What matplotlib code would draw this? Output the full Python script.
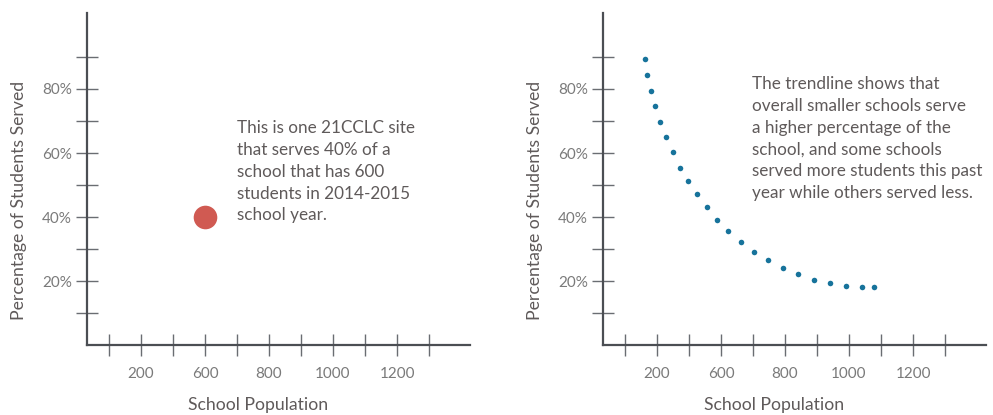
import numpy as np
import matplotlib
matplotlib.use("Agg")
import matplotlib.pyplot as plt

plt.rcParams['font.family'] = ['Lato', 'DejaVu Sans']

# x values are positions along the tick row (tick 1 .. tick 11)
tick_pos = [1, 2, 3, 4, 5, 6, 7, 8, 9, 10, 11]
xtick_labels = ['', '200', '', '600', '', '800', '', '1000', '', '1200', '']
ytick_vals = [10, 20, 30, 40, 50, 60, 70, 80, 90]
ytick_labels = ['', '20%', '', '40%', '', '60%', '', '80%', '']

# left panel: one site
site_x = [4]
site_y = [40]

# right panel: trendline dots
trend_x = [1.62, 1.69, 1.80, 1.94, 2.10, 2.28, 2.49, 2.72, 2.97, 3.25, 3.55, 3.88,
           4.23, 4.62, 5.03, 5.48, 5.94, 6.41, 6.90, 7.40, 7.91, 8.42, 8.78]
trend_y = [89.5, 84.5, 79.5, 74.6, 69.7, 64.9, 60.2, 55.3, 51.2, 47.2, 43.1, 39.2,
           35.5, 32.2, 29.2, 26.5, 24.2, 22.2, 20.4, 19.3, 18.5, 18.1, 18.1]

note_left = ("This is one 21CCLC site\nthat serves 40% of a\nschool that has 600\n"
             "students in 2014-2015\nschool year.")
note_right = ("The trendline shows that\noverall smaller schools serve\n"
              "a higher percentage of the\nschool, and some schools\n"
              "served more students this past\nyear while others served less.")

W, H = 993, 415
fig = plt.figure(figsize=(W / 100, H / 100), dpi=100)

text_col = '#5f5a5a'
tick_col = '#7a7a7a'
axis_col = '#4b4e53'


def make_axes(left_px):
    ax = fig.add_axes([left_px / W, (H - 345) / H, 383 / W, 332 / H])
    ax.set_xlim(0.3125, 12.28)
    ax.set_ylim(0, 103.75)
    for s in ['top', 'right']:
        ax.spines[s].set_visible(False)
    for s in ['left', 'bottom']:
        ax.spines[s].set_color(axis_col)
        ax.spines[s].set_linewidth(1.6)
    ax.set_xticks(tick_pos)
    ax.set_xticklabels(xtick_labels)
    ax.set_yticks(ytick_vals)
    ax.set_yticklabels(ytick_labels)
    ax.tick_params(axis='both', direction='inout', length=15.5, width=1.0,
                   color='#6a6d72', labelcolor=tick_col, labelsize=11)
    ax.tick_params(axis='x', pad=8)
    ax.tick_params(axis='y', pad=3)
    ax.set_xlabel('School Population', fontsize=12.7, color=text_col)
    ax.set_ylabel('Percentage of Students Served', fontsize=12.7, color=text_col)
    ax.xaxis.set_label_coords(0.4465, -0.181)
    ax.xaxis.label.set_va('center')
    ax.yaxis.set_label_coords(-0.178, 0.434)
    ax.yaxis.label.set_va('center')
    return ax


ax1 = make_axes(87)
ax1.plot(site_x, site_y, 'o', color='#d05a52', markersize=17, markeredgewidth=0)
ax1.text(237 / W, (H - 120) / H, note_left, transform=fig.transFigure,
         fontsize=12.3, color=text_col, va='top', ha='left', linespacing=1.45)

ax2 = make_axes(603)
ax2.plot(trend_x, trend_y, 'o', color='#17739b', markersize=4, markeredgewidth=0)
ax2.text(752 / W, (H - 76) / H, note_right, transform=fig.transFigure,
         fontsize=12.3, color=text_col, va='top', ha='left', linespacing=1.45)

fig.savefig('out.png', dpi=100, facecolor='white')
